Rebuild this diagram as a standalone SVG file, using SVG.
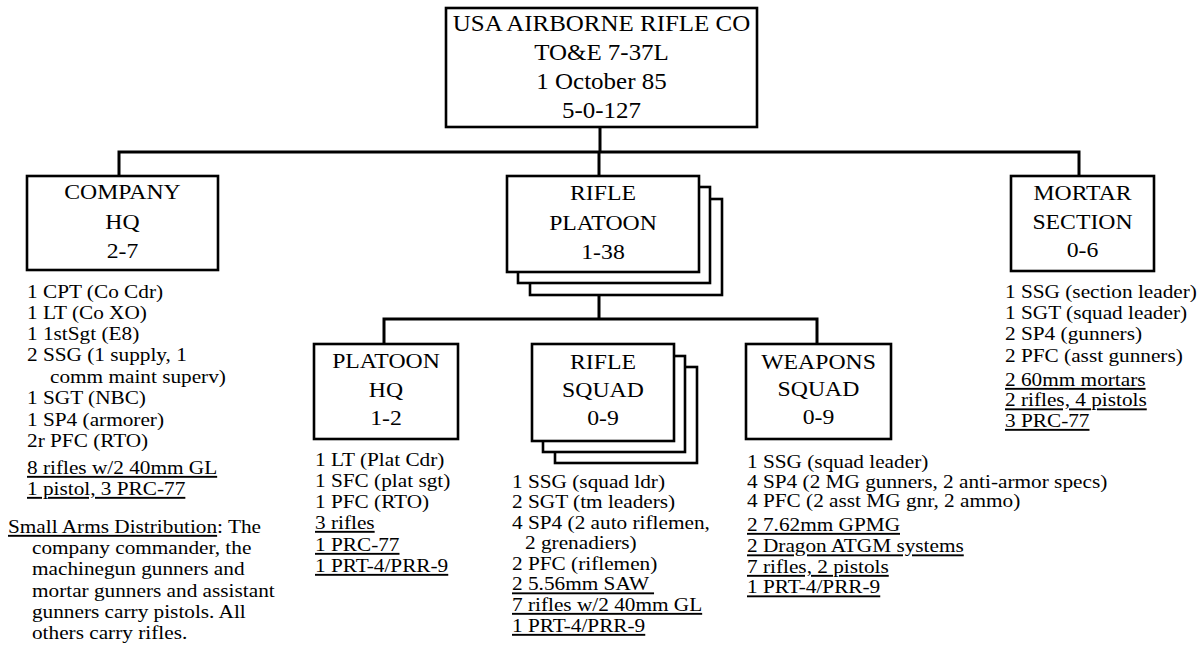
<svg xmlns="http://www.w3.org/2000/svg" width="1204" height="646" viewBox="0 0 1204 646">
<style>
text{font-family:"Liberation Serif","Times New Roman",serif;fill:#000}
.t{font-size:22.3px;text-anchor:middle}
.b{font-size:21.2px;text-anchor:middle}
.l{font-size:19px}
.u{text-decoration:underline}
.box{fill:#fff;stroke:#000;stroke-width:2.6}
.conn{fill:none;stroke:#000;stroke-width:3}
</style>
<rect width="1204" height="646" fill="#fff"/>
<g id="connectors">
<path class="conn" d="M600,127 V152"/>
<path class="conn" d="M119,176 V152 H1079 V176"/>
<path class="conn" d="M599,152 V176"/>
<path class="conn" d="M599,296 V319"/>
<path class="conn" d="M384,344 V319 H817 V344"/>
</g>
<g id="top">
<rect class="box" x="446" y="8" width="311" height="119"/>
<text class="t" transform="translate(601.5,0) scale(1.12,1)"><tspan x="0" y="31">USA AIRBORNE RIFLE CO</tspan><tspan x="0" y="60">TO&amp;E 7-37L</tspan><tspan x="0" y="89">1 October 85</tspan><tspan x="0" y="118">5-0-127</tspan></text>
</g>
<g id="company-hq">
<rect class="box" x="27" y="176" width="191" height="94"/>
<text class="b" transform="translate(122.5,0) scale(1.12,1)"><tspan x="0" y="199">COMPANY</tspan><tspan x="0" y="229">HQ</tspan><tspan x="0" y="258">2-7</tspan></text>
<text class="l" transform="translate(27,0) scale(1.12,1)"><tspan x="0" y="298">1 CPT (Co Cdr)</tspan><tspan x="0" y="319">1 LT (Co XO)</tspan><tspan x="0" y="340">1 1stSgt (E8)</tspan><tspan x="0" y="361">2 SSG (1 supply, 1</tspan><tspan x="20.5" y="383">comm maint superv)</tspan><tspan x="0" y="404">1 SGT (NBC)</tspan><tspan x="0" y="426">1 SP4 (armorer)</tspan><tspan x="0" y="447">2r PFC (RTO)</tspan><tspan class="u" x="0" y="474">8 rifles w/2 40mm GL</tspan><tspan class="u" x="0" y="495">1 pistol, 3 PRC-77</tspan></text>
<text class="l" transform="translate(8,0) scale(1.12,1)"><tspan x="0" y="533"><tspan class="u">Small Arms Distribution</tspan>: The</tspan><tspan x="21.4" y="554">company commander, the</tspan><tspan x="21.4" y="575">machinegun gunners and</tspan><tspan x="21.4" y="597">mortar gunners and assistant</tspan><tspan x="21.4" y="618">gunners carry pistols. All</tspan><tspan x="21.4" y="639">others carry rifles.</tspan></text>
</g>
<g id="rifle-platoon">
<rect class="box" x="530" y="199" width="192" height="96"/>
<rect class="box" x="518" y="187" width="192" height="96"/>
<rect class="box" x="507" y="176" width="192" height="96"/>
<text class="b" transform="translate(603,0) scale(1.12,1)"><tspan x="0" y="200">RIFLE</tspan><tspan x="0" y="230">PLATOON</tspan><tspan x="0" y="259">1-38</tspan></text>
</g>
<g id="mortar-section">
<rect class="box" x="1011" y="176" width="143" height="95"/>
<text class="b" transform="translate(1082.5,0) scale(1.12,1)"><tspan x="0" y="200">MORTAR</tspan><tspan x="0" y="229">SECTION</tspan><tspan x="0" y="257">0-6</tspan></text>
<text class="l" transform="translate(1005,0) scale(1.12,1)"><tspan x="0" y="298">1 SSG (section leader)</tspan><tspan x="0" y="319">1 SGT (squad leader)</tspan><tspan x="0" y="340">2 SP4 (gunners)</tspan><tspan x="0" y="362">2 PFC (asst gunners)</tspan><tspan class="u" x="0" y="386">2 60mm mortars</tspan><tspan class="u" x="0" y="406.5">2 rifles, 4 pistols</tspan><tspan class="u" x="0" y="427">3 PRC-77</tspan></text>
</g>
<g id="platoon-hq">
<rect class="box" x="314" y="344" width="144" height="95"/>
<text class="b" transform="translate(386,0) scale(1.12,1)"><tspan x="0" y="368">PLATOON</tspan><tspan x="0" y="397">HQ</tspan><tspan x="0" y="425">1-2</tspan></text>
<text class="l" transform="translate(315,0) scale(1.12,1)"><tspan x="0" y="466">1 LT (Plat Cdr)</tspan><tspan x="0" y="487">1 SFC (plat sgt)</tspan><tspan x="0" y="508">1 PFC (RTO)</tspan><tspan class="u" x="0" y="529">3 rifles</tspan><tspan class="u" x="0" y="551">1 PRC-77</tspan><tspan class="u" x="0" y="572">1 PRT-4/PRR-9</tspan></text>
</g>
<g id="rifle-squad">
<rect class="box" x="555" y="367" width="142" height="96"/>
<rect class="box" x="543" y="356" width="142" height="96"/>
<rect class="box" x="532" y="344" width="142" height="97"/>
<text class="b" transform="translate(603,0) scale(1.12,1)"><tspan x="0" y="369">RIFLE</tspan><tspan x="0" y="397">SQUAD</tspan><tspan x="0" y="425">0-9</tspan></text>
<text class="l" transform="translate(512,0) scale(1.12,1)"><tspan x="0" y="488">1 SSG (squad ldr)</tspan><tspan x="0" y="508.5">2 SGT (tm leaders)</tspan><tspan x="0" y="529">4 SP4 (2 auto riflemen,</tspan><tspan x="11.6" y="549.5">2 grenadiers)</tspan><tspan x="0" y="570">2 PFC (riflemen)</tspan><tspan class="u" x="0" y="590.5">2 5.56mm SAW </tspan><tspan class="u" x="0" y="611">7 rifles w/2 40mm GL</tspan><tspan class="u" x="0" y="632">1 PRT-4/PRR-9</tspan></text>
</g>
<g id="weapons-squad">
<rect class="box" x="746" y="344" width="145" height="95"/>
<text class="b" transform="translate(818.5,0) scale(1.12,1)"><tspan x="0" y="369">WEAPONS</tspan><tspan x="0" y="396">SQUAD</tspan><tspan x="0" y="424">0-9</tspan></text>
<text class="l" transform="translate(747,0) scale(1.12,1)"><tspan x="0" y="468">1 SSG (squad leader)</tspan><tspan x="0" y="488.5">4 SP4 (2 MG gunners, 2 anti-armor specs)</tspan><tspan x="0" y="507">4 PFC (2 asst MG gnr, 2 ammo)</tspan><tspan class="u" x="0" y="531">2 7.62mm GPMG</tspan><tspan class="u" x="0" y="552.5">2 Dragon ATGM systems</tspan><tspan class="u" x="0" y="573">7 rifles, 2 pistols</tspan><tspan class="u" x="0" y="593.5">1 PRT-4/PRR-9</tspan></text>
</g>
</svg>
